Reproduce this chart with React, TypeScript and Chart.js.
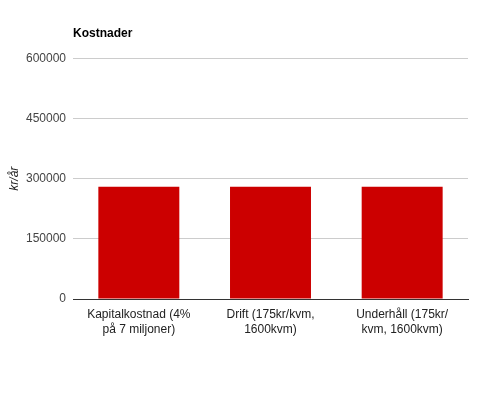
import React, { useEffect, useRef } from "react";
import { Chart, registerables } from "chart.js";

Chart.register(...registerables);

const categories: string[][] = [
  ["Kapitalkostnad (4%", "på 7 miljoner)"],
  ["Drift (175kr/kvm,", "1600kvm)"],
  ["Underhåll (175kr/", "kvm, 1600kvm)"],
];
const values: number[] = [280000, 280000, 280000];
const yTicks: number[] = [0, 150000, 300000, 450000, 600000];
const chartTitle = "Kostnader";
const yTitle = "kr/år";

export default function App() {
  const ref = useRef<HTMLCanvasElement | null>(null);
  useEffect(() => {
    if (!ref.current) return;
    const font = "Arial, 'Liberation Sans', sans-serif";
    const chart = new Chart(ref.current, {
      type: "bar",
      data: {
        labels: categories,
        datasets: [
          {
            data: values,
            backgroundColor: "#cc0000",
            borderWidth: 0,
            categoryPercentage: 0.615,
            barPercentage: 1,
          },
        ],
      },
      options: {
        animation: false,
        responsive: false,
        devicePixelRatio: 1,
        layout: { padding: { left: 0, right: 15, top: 0, bottom: 0 } },
        plugins: {
          legend: { display: false },
          tooltip: { enabled: false },
          title: {
            display: true,
            text: chartTitle,
            align: "start",
            fullSize: false,
            color: "#000",
            font: { family: font, size: 12, weight: "bold", lineHeight: 1.2 },
            padding: { top: 26, bottom: 18 },
          },
        },
        scales: {
          x: {
            grid: { display: false, drawTicks: false },
            border: { display: true, color: "#333", width: 1 },
            ticks: {
              color: "#222",
              font: { family: font, size: 12, lineHeight: 1.25 },
              padding: 8,
              maxRotation: 0,
              minRotation: 0,
              autoSkip: false,
            },
            afterFit: (s: any) => {
              s.height = 103;
            },
          },
          y: {
            min: 0,
            max: 600000,
            afterBuildTicks: (s: any) => {
              s.ticks = yTicks.map((v) => ({ value: v }));
            },
            grid: { color: "#cccccc", drawTicks: false, lineWidth: 1 },
            border: { display: false },
            ticks: {
              color: "#444",
              font: { family: font, size: 12 },
              padding: 7,
              callback: (v: any) => String(v),
            },
            title: {
              display: true,
              text: yTitle,
              color: "#222",
              font: { family: font, size: 12, style: "italic", lineHeight: 1.2 },
              padding: { top: 7, bottom: 0 },
            },
            afterFit: (s: any) => {
              s.width = 73;
            },
          },
        },
      },
    });
    return () => chart.destroy();
  }, []);
  return (
    <div style={{ position: "absolute", left: 0, top: 0, width: 483, height: 402, background: "#fff" }}>
      <canvas ref={ref} width={483} height={402} style={{ width: 483, height: 402, display: "block" }} />
    </div>
  );
}
